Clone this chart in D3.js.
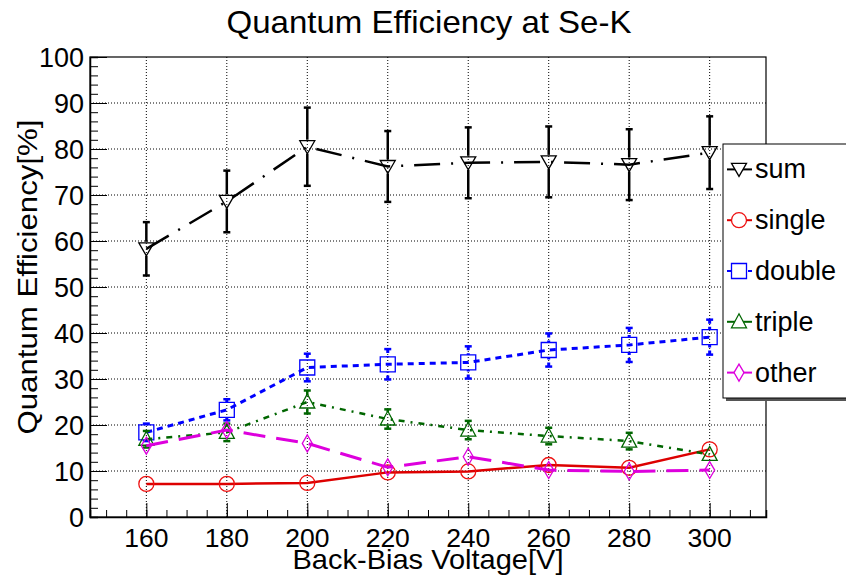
<!DOCTYPE html>
<html lang="en">
<head>
<meta charset="utf-8">
<title>Quantum Efficiency at Se-K</title>
<script src="https://cdn.jsdelivr.net/npm/d3@7"></script>
<style>
  body { margin: 0; background: #fff; }
  svg text { font-family: "Liberation Sans", Arial, sans-serif; fill: #000; }
</style>
</head>
<body>
<script>
// data
var voltages = [160, 180, 200, 220, 240, 260, 280, 300];

var sumValues    = [58.3, 68.6, 80.5, 76.2, 77.0, 77.2, 76.6, 79.2];
var sumErrors    = [5.8, 6.7, 8.5, 7.7, 7.7, 7.7, 7.7, 7.9];
var singleValues = [7.2, 7.2, 7.4, 9.7, 9.9, 11.3, 10.7, 14.7];
var singleErrors = [0.6, 0.6, 0.6, 0.7, 0.7, 0.8, 0.8, 1.0];
var doubleValues = [18.4, 23.3, 32.5, 33.2, 33.6, 36.3, 37.4, 39.1];
var doubleErrors = [1.9, 2.3, 3.0, 3.3, 3.5, 3.6, 3.7, 3.8];
var tripleValues = [16.9, 18.4, 25.0, 21.3, 18.9, 17.6, 16.5, 13.6];
var tripleErrors = [1.8, 1.9, 2.5, 2.1, 2.0, 1.8, 1.8, 1.6];
var otherValues  = [15.5, 18.9, 16.0, 10.8, 13.1, 10.2, 9.9, 10.2];
var otherErrors  = [0.9, 1.0, 1.0, 0.8, 0.9, 0.8, 0.8, 0.8];

var seriesNames = ["sum", "single", "double", "triple", "other"];

var xTickValues = [160, 180, 200, 220, 240, 260, 280, 300];
var yTickValues = [0, 10, 20, 30, 40, 50, 60, 70, 80, 90, 100];

var w = 846;
var h = 580;
var plot = { left: 90, right: 766, top: 57, bottom: 517 };

// marker shapes, drawn around 0,0
var shapes = {
    triDown: "M-7.5,-6L7.5,-6L0,7Z",
    circle: "M-7.5,0A7.5,7.5 0 1,0 7.5,0A7.5,7.5 0 1,0 -7.5,0Z",
    square: "M-7.5,-7.5H7.5V7.5H-7.5Z",
    triUp: "M-7.5,6L7.5,6L0,-8Z",
    diamond: "M0,-8.5L5,0L0,8.5L-5,0Z"
};

var series = [
    { name: seriesNames[0], values: sumValues, errors: sumErrors, color: "#000000",
      dash: "26,11,2,11", errDash: null, width: 2.5, shape: shapes.triDown, half: 7, cap: true },
    { name: seriesNames[1], values: singleValues, errors: singleErrors, color: "#dd0000",
      dash: null, errDash: null, width: 2.5, shape: shapes.circle, half: 7.5, cap: false, markerColor: "#ee1111" },
    { name: seriesNames[2], values: doubleValues, errors: doubleErrors, color: "#0000ff",
      dash: "6,5", errDash: "4,3", width: 3, shape: shapes.square, half: 7.5, cap: true },
    { name: seriesNames[3], values: tripleValues, errors: tripleErrors, color: "#006600",
      dash: "6,6,2,6", errDash: null, width: 2.5, shape: shapes.triUp, half: 7, cap: true },
    { name: seriesNames[4], values: otherValues, errors: otherErrors, color: "#dd00dd",
      dash: "22,11", errDash: null, width: 3, shape: shapes.diamond, half: 8.5, cap: false }
];

var xScale = d3.scaleLinear().domain([146, 314]).range([plot.left, plot.right]);
var yScale = d3.scaleLinear().domain([0, 100]).range([plot.bottom, plot.top]);

var svg = d3.select("body")
            .append("svg")
            .attr("width", w)
            .attr("height", h);

svg.append("rect").attr("width", w).attr("height", h).attr("fill", "#fff");

// grid
svg.append("g")
   .selectAll("line")
   .data(xTickValues)
   .enter()
   .append("line")
   .attr("x1", function(d) { return xScale(d); })
   .attr("x2", function(d) { return xScale(d); })
   .attr("y1", plot.top)
   .attr("y2", plot.bottom)
   .attr("stroke", "#000")
   .attr("stroke-width", 1)
   .attr("stroke-dasharray", "1,2");

svg.append("g")
   .selectAll("line")
   .data(yTickValues.slice(1, -1))
   .enter()
   .append("line")
   .attr("x1", plot.left)
   .attr("x2", plot.right)
   .attr("y1", function(d) { return yScale(d); })
   .attr("y2", function(d) { return yScale(d); })
   .attr("stroke", "#000")
   .attr("stroke-width", 1)
   .attr("stroke-dasharray", "1,2");

// frame
svg.append("rect")
   .attr("x", plot.left)
   .attr("y", plot.top)
   .attr("width", plot.right - plot.left)
   .attr("height", plot.bottom - plot.top)
   .attr("fill", "none")
   .attr("stroke", "#000")
   .attr("stroke-width", 1.2);

// x axis: ticks point up into the plot
svg.append("g")
   .attr("transform", "translate(0," + plot.bottom + ")")
   .call(d3.axisTop(xScale).tickValues(d3.range(150, 315, 5)).tickSize(7).tickFormat(""))
   .call(function(g) { g.select(".domain").attr("stroke-width", 1.5); });

svg.append("g")
   .attr("transform", "translate(0," + plot.bottom + ")")
   .call(d3.axisTop(xScale).tickValues(xTickValues).tickSize(14).tickFormat(""))
   .call(function(g) { g.select(".domain").remove(); });

svg.append("g")
   .selectAll("text")
   .data(xTickValues)
   .enter()
   .append("text")
   .attr("x", function(d) { return xScale(d); })
   .attr("y", 546.5)
   .attr("text-anchor", "middle")
   .attr("font-size", "26.5px")
   .text(function(d) { return d; });

// y axis: ticks point right into the plot
svg.append("g")
   .attr("transform", "translate(" + plot.left + ",0)")
   .call(d3.axisRight(yScale).tickValues(d3.range(0, 101, 2)).tickSize(8).tickFormat(""))
   .call(function(g) { g.select(".domain").attr("stroke-width", 1.5); });

svg.append("g")
   .attr("transform", "translate(" + plot.left + ",0)")
   .call(d3.axisRight(yScale).tickValues(yTickValues).tickSize(17).tickFormat(""))
   .call(function(g) { g.select(".domain").remove(); });

svg.append("g")
   .selectAll("text")
   .data(yTickValues)
   .enter()
   .append("text")
   .attr("x", 84)
   .attr("y", function(d) { return yScale(d) + 9.5; })
   .attr("text-anchor", "end")
   .attr("font-size", "27px")
   .text(function(d) { return d; });

// titles
svg.append("text")
   .attr("x", 429)
   .attr("y", 33)
   .attr("text-anchor", "middle")
   .attr("font-size", "32px")
   .attr("textLength", 405)
   .attr("lengthAdjust", "spacingAndGlyphs")
   .text("Quantum Efficiency at Se-K");

svg.append("text")
   .attr("x", 428)
   .attr("y", 568.5)
   .attr("text-anchor", "middle")
   .attr("font-size", "28px")
   .attr("textLength", 271)
   .attr("lengthAdjust", "spacingAndGlyphs")
   .text("Back-Bias Voltage[V]");

svg.append("text")
   .attr("transform", "translate(37,277) rotate(-90)")
   .attr("text-anchor", "middle")
   .attr("font-size", "28px")
   .attr("textLength", 315)
   .attr("lengthAdjust", "spacingAndGlyphs")
   .text("Quantum Efficiency[%]");

// series
var line = d3.line()
             .x(function(d) { return xScale(d.x); })
             .y(function(d) { return yScale(d.y); });

series.forEach(function(s) {
    var pts = voltages.map(function(v, i) {
        return { x: v, y: s.values[i], e: s.errors[i] };
    });
    var g = svg.append("g");

    g.append("path")
     .datum(pts)
     .attr("d", line)
     .attr("fill", "none")
     .attr("stroke", s.color)
     .attr("stroke-width", s.width)
     .attr("stroke-dasharray", s.dash);

    // error bars, kept outside the marker
    pts.forEach(function(p) {
        var cx = xScale(p.x);
        var cy = yScale(p.y);
        var top = yScale(p.y + p.e);
        var bot = yScale(p.y - p.e);
        var ends = [];
        if (cy - s.half - top > 1) ends.push([top, cy - s.half]);
        if (bot - (cy + s.half) > 1) ends.push([bot, cy + s.half]);
        ends.forEach(function(seg) {
            g.append("line")
             .attr("x1", cx).attr("x2", cx)
             .attr("y1", seg[0]).attr("y2", seg[1])
             .attr("stroke", s.color)
             .attr("stroke-width", s.width)
             .attr("stroke-dasharray", s.errDash);
            if (s.cap) {
                g.append("line")
                 .attr("x1", cx - 3.5).attr("x2", cx + 3.5)
                 .attr("y1", seg[0]).attr("y2", seg[0])
                 .attr("stroke", s.color).attr("stroke-width", 2.5);
            }
        });
    });

    g.selectAll(".marker")
     .data(pts)
     .enter()
     .append("path")
     .attr("class", "marker")
     .attr("d", s.shape)
     .attr("transform", function(d) {
         return "translate(" + xScale(d.x) + "," + yScale(d.y) + ")";
     })
     .attr("fill", "none")
     .attr("stroke", s.markerColor || s.color)
     .attr("stroke-width", 1.3);
});

// legend
var legend = { x: 723, y: 144, w: 140, h: 254 };
svg.append("rect")
   .attr("x", legend.x + 3)
   .attr("y", legend.y + 3)
   .attr("width", legend.w)
   .attr("height", legend.h)
   .attr("fill", "#555");
svg.append("rect")
   .attr("x", legend.x)
   .attr("y", legend.y)
   .attr("width", legend.w)
   .attr("height", legend.h)
   .attr("fill", "#fff")
   .attr("stroke", "#000")
   .attr("stroke-width", 1);

var rowH = legend.h / series.length;
var items = svg.selectAll(".legend-item")
               .data(series)
               .enter()
               .append("g")
               .attr("class", "legend-item")
               .attr("transform", function(d, i) {
                   return "translate(" + legend.x + "," + (legend.y + rowH * (i + 0.5)) + ")";
               });

items.append("line")
     .attr("x1", 4).attr("x2", 29)
     .attr("y1", 0).attr("y2", 0)
     .attr("stroke", function(d) { return d.color; })
     .attr("stroke-width", 2)
     .attr("stroke-dasharray", function(d) { return d.errDash; });

items.append("path")
     .attr("d", function(d) { return d.shape; })
     .attr("transform", "translate(16,0)")
     .attr("fill", "#fff")
     .attr("stroke", function(d) { return d.markerColor || d.color; })
     .attr("stroke-width", 1.3);

items.append("text")
     .attr("x", 32)
     .attr("y", 9)
     .attr("font-size", "27px")
     .text(function(d) { return d.name; });
</script>
</body>
</html>
